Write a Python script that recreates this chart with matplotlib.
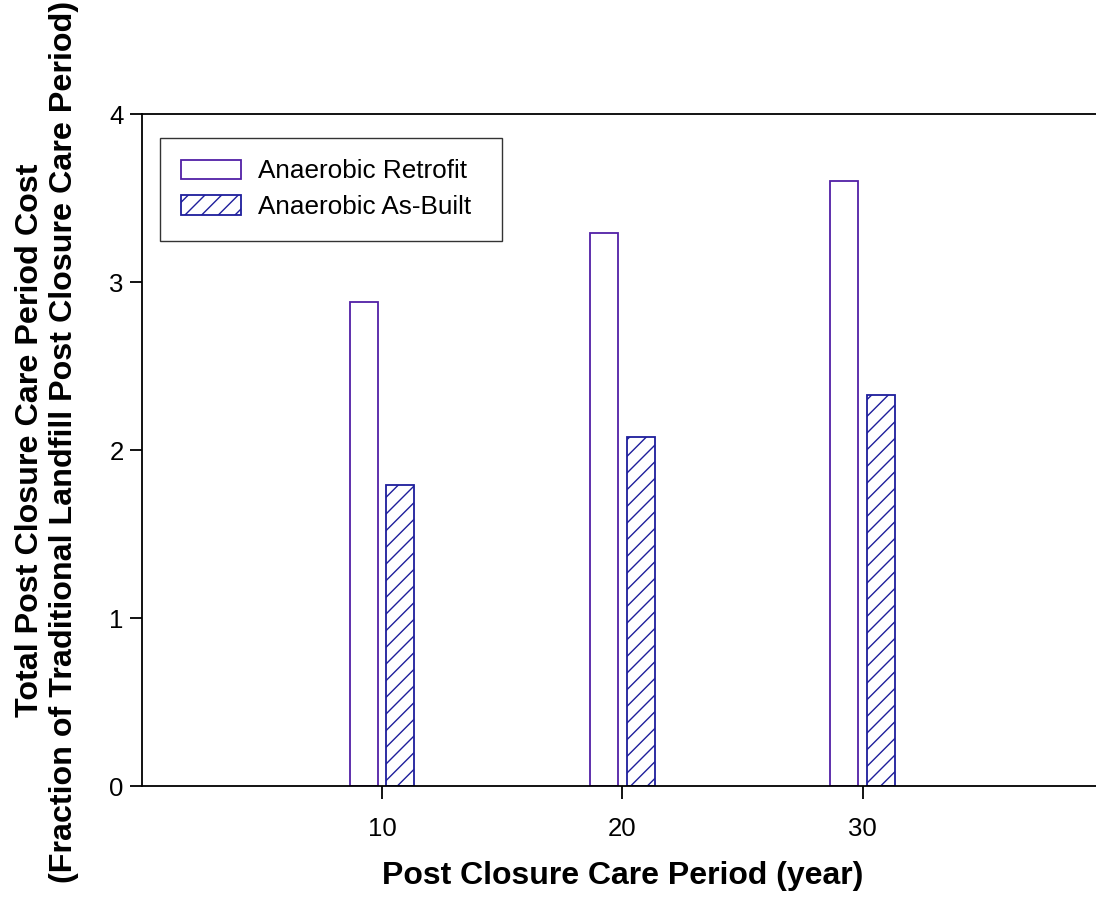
import matplotlib
matplotlib.use("Agg")
import matplotlib.pyplot as plt
import numpy as np

# Data
periods = [10, 20, 30]
retrofit = [2.88, 3.29, 3.60]
as_built = [1.79, 2.08, 2.33]
series_labels = ["Anaerobic Retrofit", "Anaerobic As-Built"]
y_ticks = [0, 1, 2, 3, 4]

plt.rcParams['font.family'] = ['Liberation Sans', 'DejaVu Sans']
plt.rcParams['hatch.linewidth'] = 1.0

fig = plt.figure(figsize=(10.96, 8.99), dpi=100)
ax = fig.add_axes([141.7 / 1096, 1 - 786 / 899, 961.2 / 1096, 672 / 899])

retro_color = '#5220a6'
built_color = '#1e1e9c'
width = 1.17
offset = 0.76
x = np.array(periods, dtype=float)

ax.bar(x - offset, retrofit, width=width, facecolor='white',
       edgecolor=retro_color, linewidth=1.3, label=series_labels[0])
ax.bar(x + offset, as_built, width=width, facecolor='white',
       edgecolor=built_color, linewidth=1.3, hatch='//', label=series_labels[1])

ax.set_xlim(0, 40)
ax.set_ylim(0, 4)
ax.set_xticks(periods)
ax.set_yticks(y_ticks)
ax.tick_params(axis='both', direction='out', length=9, width=1.3,
               labelsize=18.5)
ax.tick_params(axis='x', pad=13)
ax.tick_params(axis='y', pad=4)
for side in ['left', 'bottom', 'top']:
    ax.spines[side].set_linewidth(1.3)
ax.spines['right'].set_visible(False)

ax.set_xlabel("Post Closure Care Period (year)", fontsize=23,
              fontweight='bold', labelpad=15)

fig.text(30 / 1096, 1 - 440 / 899, "Total Post Closure Care Period Cost",
         rotation=90, ha='center', va='center', fontsize=23.2, fontweight='bold')
fig.text(64 / 1096, 1 - 442 / 899,
         "(Fraction of Traditional Landfill Post Closure Care Period)",
         rotation=90, ha='center', va='center', fontsize=23.2, fontweight='bold')

# legend box spans a fixed figure region; 'expand' widens the frame to it
leg = ax.legend(loc='upper left',
                bbox_to_anchor=(160 / 1096, 1 - 241 / 899, 342 / 1096, 103 / 899),
                bbox_transform=fig.transFigure, mode='expand',
                fontsize=18.8, frameon=True,
                fancybox=False, edgecolor='black', borderaxespad=0,
                handlelength=2.3, handleheight=0.77, handletextpad=0.65,
                labelspacing=0.45, borderpad=0.82)
leg.get_frame().set_linewidth(1.0)

fig.savefig("out.png", dpi=100)
